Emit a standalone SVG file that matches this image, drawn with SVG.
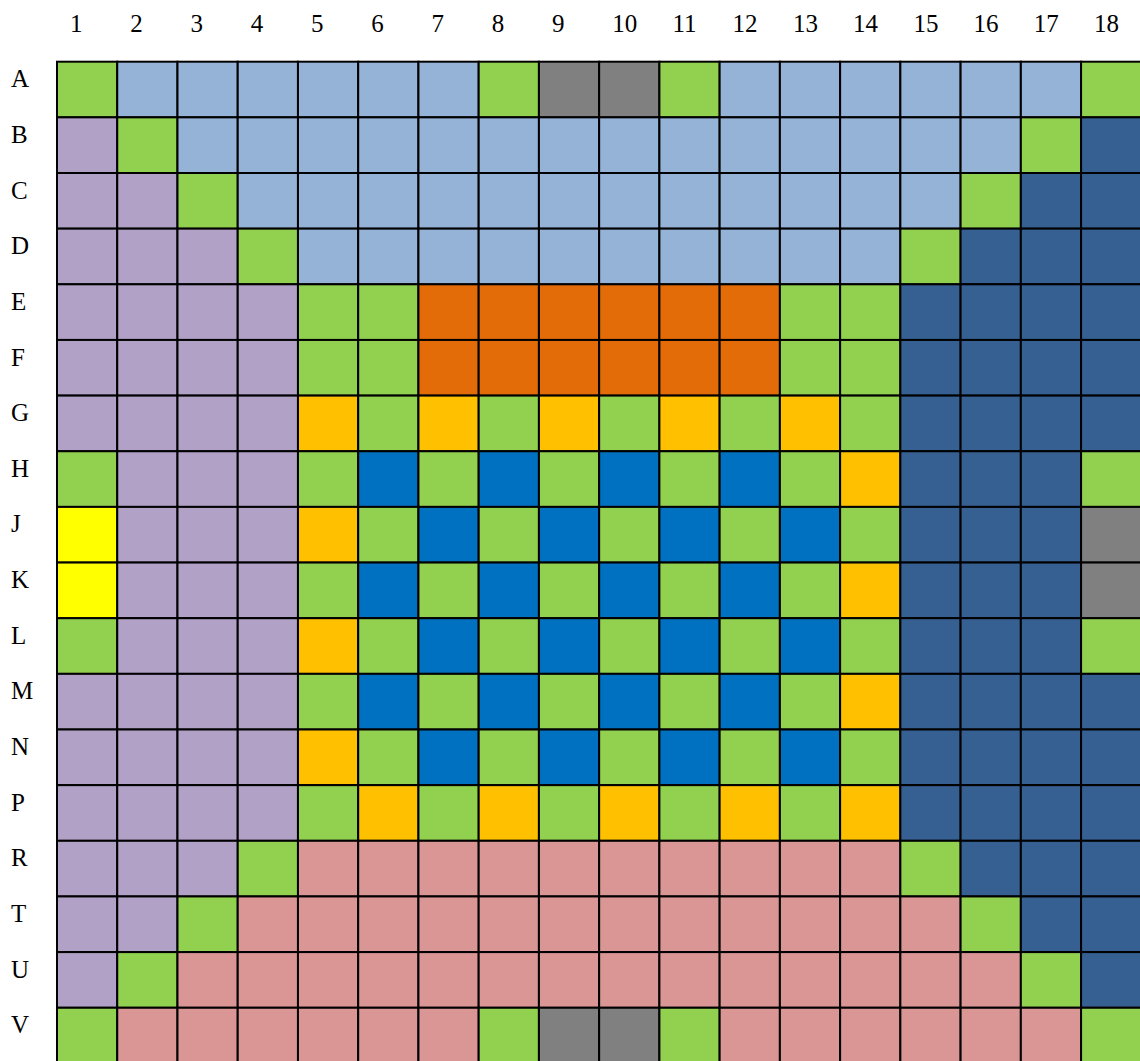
<svg xmlns="http://www.w3.org/2000/svg" width="1140" height="1061" viewBox="0 0 1140 1061">
<style>
rect{stroke:#000;stroke-width:2}
.g{fill:#92D050}.lb{fill:#95B3D7}.gr{fill:#808080}.p{fill:#B2A1C7}.db{fill:#366092}.o{fill:#E36C09}.y{fill:#FFC000}.b{fill:#0070C0}.ye{fill:#FFFF00}.pk{fill:#DA9694}
text{font-family:"Liberation Serif","Times New Roman",serif;font-size:25px;fill:#000}
</style>
<rect x="0" y="0" width="1140" height="1061" style="fill:#fff;stroke:none"/>
<g id="column-labels">
<text x="70" y="31.5">1</text><text x="130.2" y="31.5">2</text><text x="190.5" y="31.5">3</text><text x="250.7" y="31.5">4</text><text x="311" y="31.5">5</text><text x="371.2" y="31.5">6</text><text x="431.4" y="31.5">7</text><text x="491.7" y="31.5">8</text><text x="551.9" y="31.5">9</text><text x="612.2" y="31.5">10</text><text x="672.4" y="31.5">11</text><text x="732.6" y="31.5">12</text><text x="792.9" y="31.5">13</text><text x="853.1" y="31.5">14</text><text x="913.4" y="31.5">15</text><text x="973.6" y="31.5">16</text><text x="1033.8" y="31.5">17</text><text x="1094.1" y="31.5">18</text>
</g>
<g id="row-labels">
<text x="11" y="87.2">A</text><text x="11" y="142.9">B</text><text x="11" y="198.5">C</text><text x="11" y="254.2">D</text><text x="11" y="309.8">E</text><text x="11" y="365.5">F</text><text x="11" y="421.1">G</text><text x="11" y="476.8">H</text><text x="11" y="532.4">J</text><text x="11" y="588.1">K</text><text x="11" y="643.7">L</text><text x="11" y="699.4">M</text><text x="11" y="755">N</text><text x="11" y="810.7">P</text><text x="11" y="866.3">R</text><text x="11" y="922">T</text><text x="11" y="977.6">U</text><text x="11" y="1033.3">V</text>
</g>
<g id="grid">
<g id="row-A" transform="translate(0,61.7)">
<rect width="60.24" height="55.65" x="57" class="g"/><rect width="60.24" height="55.65" x="117.24" class="lb"/><rect width="60.24" height="55.65" x="177.48" class="lb"/><rect width="60.24" height="55.65" x="237.72" class="lb"/><rect width="60.24" height="55.65" x="297.96" class="lb"/><rect width="60.24" height="55.65" x="358.2" class="lb"/><rect width="60.24" height="55.65" x="418.44" class="lb"/><rect width="60.24" height="55.65" x="478.68" class="g"/><rect width="60.24" height="55.65" x="538.92" class="gr"/><rect width="60.24" height="55.65" x="599.16" class="gr"/><rect width="60.24" height="55.65" x="659.4" class="g"/><rect width="60.24" height="55.65" x="719.64" class="lb"/><rect width="60.24" height="55.65" x="779.88" class="lb"/><rect width="60.24" height="55.65" x="840.12" class="lb"/><rect width="60.24" height="55.65" x="900.36" class="lb"/><rect width="60.24" height="55.65" x="960.6" class="lb"/><rect width="60.24" height="55.65" x="1020.84" class="lb"/><rect width="60.24" height="55.65" x="1081.08" class="g"/>
</g>
<g id="row-B" transform="translate(0,117.35)">
<rect width="60.24" height="55.65" x="57" class="p"/><rect width="60.24" height="55.65" x="117.24" class="g"/><rect width="60.24" height="55.65" x="177.48" class="lb"/><rect width="60.24" height="55.65" x="237.72" class="lb"/><rect width="60.24" height="55.65" x="297.96" class="lb"/><rect width="60.24" height="55.65" x="358.2" class="lb"/><rect width="60.24" height="55.65" x="418.44" class="lb"/><rect width="60.24" height="55.65" x="478.68" class="lb"/><rect width="60.24" height="55.65" x="538.92" class="lb"/><rect width="60.24" height="55.65" x="599.16" class="lb"/><rect width="60.24" height="55.65" x="659.4" class="lb"/><rect width="60.24" height="55.65" x="719.64" class="lb"/><rect width="60.24" height="55.65" x="779.88" class="lb"/><rect width="60.24" height="55.65" x="840.12" class="lb"/><rect width="60.24" height="55.65" x="900.36" class="lb"/><rect width="60.24" height="55.65" x="960.6" class="lb"/><rect width="60.24" height="55.65" x="1020.84" class="g"/><rect width="60.24" height="55.65" x="1081.08" class="db"/>
</g>
<g id="row-C" transform="translate(0,173)">
<rect width="60.24" height="55.65" x="57" class="p"/><rect width="60.24" height="55.65" x="117.24" class="p"/><rect width="60.24" height="55.65" x="177.48" class="g"/><rect width="60.24" height="55.65" x="237.72" class="lb"/><rect width="60.24" height="55.65" x="297.96" class="lb"/><rect width="60.24" height="55.65" x="358.2" class="lb"/><rect width="60.24" height="55.65" x="418.44" class="lb"/><rect width="60.24" height="55.65" x="478.68" class="lb"/><rect width="60.24" height="55.65" x="538.92" class="lb"/><rect width="60.24" height="55.65" x="599.16" class="lb"/><rect width="60.24" height="55.65" x="659.4" class="lb"/><rect width="60.24" height="55.65" x="719.64" class="lb"/><rect width="60.24" height="55.65" x="779.88" class="lb"/><rect width="60.24" height="55.65" x="840.12" class="lb"/><rect width="60.24" height="55.65" x="900.36" class="lb"/><rect width="60.24" height="55.65" x="960.6" class="g"/><rect width="60.24" height="55.65" x="1020.84" class="db"/><rect width="60.24" height="55.65" x="1081.08" class="db"/>
</g>
<g id="row-D" transform="translate(0,228.65)">
<rect width="60.24" height="55.65" x="57" class="p"/><rect width="60.24" height="55.65" x="117.24" class="p"/><rect width="60.24" height="55.65" x="177.48" class="p"/><rect width="60.24" height="55.65" x="237.72" class="g"/><rect width="60.24" height="55.65" x="297.96" class="lb"/><rect width="60.24" height="55.65" x="358.2" class="lb"/><rect width="60.24" height="55.65" x="418.44" class="lb"/><rect width="60.24" height="55.65" x="478.68" class="lb"/><rect width="60.24" height="55.65" x="538.92" class="lb"/><rect width="60.24" height="55.65" x="599.16" class="lb"/><rect width="60.24" height="55.65" x="659.4" class="lb"/><rect width="60.24" height="55.65" x="719.64" class="lb"/><rect width="60.24" height="55.65" x="779.88" class="lb"/><rect width="60.24" height="55.65" x="840.12" class="lb"/><rect width="60.24" height="55.65" x="900.36" class="g"/><rect width="60.24" height="55.65" x="960.6" class="db"/><rect width="60.24" height="55.65" x="1020.84" class="db"/><rect width="60.24" height="55.65" x="1081.08" class="db"/>
</g>
<g id="row-E" transform="translate(0,284.3)">
<rect width="60.24" height="55.65" x="57" class="p"/><rect width="60.24" height="55.65" x="117.24" class="p"/><rect width="60.24" height="55.65" x="177.48" class="p"/><rect width="60.24" height="55.65" x="237.72" class="p"/><rect width="60.24" height="55.65" x="297.96" class="g"/><rect width="60.24" height="55.65" x="358.2" class="g"/><rect width="60.24" height="55.65" x="418.44" class="o"/><rect width="60.24" height="55.65" x="478.68" class="o"/><rect width="60.24" height="55.65" x="538.92" class="o"/><rect width="60.24" height="55.65" x="599.16" class="o"/><rect width="60.24" height="55.65" x="659.4" class="o"/><rect width="60.24" height="55.65" x="719.64" class="o"/><rect width="60.24" height="55.65" x="779.88" class="g"/><rect width="60.24" height="55.65" x="840.12" class="g"/><rect width="60.24" height="55.65" x="900.36" class="db"/><rect width="60.24" height="55.65" x="960.6" class="db"/><rect width="60.24" height="55.65" x="1020.84" class="db"/><rect width="60.24" height="55.65" x="1081.08" class="db"/>
</g>
<g id="row-F" transform="translate(0,339.95)">
<rect width="60.24" height="55.65" x="57" class="p"/><rect width="60.24" height="55.65" x="117.24" class="p"/><rect width="60.24" height="55.65" x="177.48" class="p"/><rect width="60.24" height="55.65" x="237.72" class="p"/><rect width="60.24" height="55.65" x="297.96" class="g"/><rect width="60.24" height="55.65" x="358.2" class="g"/><rect width="60.24" height="55.65" x="418.44" class="o"/><rect width="60.24" height="55.65" x="478.68" class="o"/><rect width="60.24" height="55.65" x="538.92" class="o"/><rect width="60.24" height="55.65" x="599.16" class="o"/><rect width="60.24" height="55.65" x="659.4" class="o"/><rect width="60.24" height="55.65" x="719.64" class="o"/><rect width="60.24" height="55.65" x="779.88" class="g"/><rect width="60.24" height="55.65" x="840.12" class="g"/><rect width="60.24" height="55.65" x="900.36" class="db"/><rect width="60.24" height="55.65" x="960.6" class="db"/><rect width="60.24" height="55.65" x="1020.84" class="db"/><rect width="60.24" height="55.65" x="1081.08" class="db"/>
</g>
<g id="row-G" transform="translate(0,395.6)">
<rect width="60.24" height="55.65" x="57" class="p"/><rect width="60.24" height="55.65" x="117.24" class="p"/><rect width="60.24" height="55.65" x="177.48" class="p"/><rect width="60.24" height="55.65" x="237.72" class="p"/><rect width="60.24" height="55.65" x="297.96" class="y"/><rect width="60.24" height="55.65" x="358.2" class="g"/><rect width="60.24" height="55.65" x="418.44" class="y"/><rect width="60.24" height="55.65" x="478.68" class="g"/><rect width="60.24" height="55.65" x="538.92" class="y"/><rect width="60.24" height="55.65" x="599.16" class="g"/><rect width="60.24" height="55.65" x="659.4" class="y"/><rect width="60.24" height="55.65" x="719.64" class="g"/><rect width="60.24" height="55.65" x="779.88" class="y"/><rect width="60.24" height="55.65" x="840.12" class="g"/><rect width="60.24" height="55.65" x="900.36" class="db"/><rect width="60.24" height="55.65" x="960.6" class="db"/><rect width="60.24" height="55.65" x="1020.84" class="db"/><rect width="60.24" height="55.65" x="1081.08" class="db"/>
</g>
<g id="row-H" transform="translate(0,451.25)">
<rect width="60.24" height="55.65" x="57" class="g"/><rect width="60.24" height="55.65" x="117.24" class="p"/><rect width="60.24" height="55.65" x="177.48" class="p"/><rect width="60.24" height="55.65" x="237.72" class="p"/><rect width="60.24" height="55.65" x="297.96" class="g"/><rect width="60.24" height="55.65" x="358.2" class="b"/><rect width="60.24" height="55.65" x="418.44" class="g"/><rect width="60.24" height="55.65" x="478.68" class="b"/><rect width="60.24" height="55.65" x="538.92" class="g"/><rect width="60.24" height="55.65" x="599.16" class="b"/><rect width="60.24" height="55.65" x="659.4" class="g"/><rect width="60.24" height="55.65" x="719.64" class="b"/><rect width="60.24" height="55.65" x="779.88" class="g"/><rect width="60.24" height="55.65" x="840.12" class="y"/><rect width="60.24" height="55.65" x="900.36" class="db"/><rect width="60.24" height="55.65" x="960.6" class="db"/><rect width="60.24" height="55.65" x="1020.84" class="db"/><rect width="60.24" height="55.65" x="1081.08" class="g"/>
</g>
<g id="row-J" transform="translate(0,506.9)">
<rect width="60.24" height="55.65" x="57" class="ye"/><rect width="60.24" height="55.65" x="117.24" class="p"/><rect width="60.24" height="55.65" x="177.48" class="p"/><rect width="60.24" height="55.65" x="237.72" class="p"/><rect width="60.24" height="55.65" x="297.96" class="y"/><rect width="60.24" height="55.65" x="358.2" class="g"/><rect width="60.24" height="55.65" x="418.44" class="b"/><rect width="60.24" height="55.65" x="478.68" class="g"/><rect width="60.24" height="55.65" x="538.92" class="b"/><rect width="60.24" height="55.65" x="599.16" class="g"/><rect width="60.24" height="55.65" x="659.4" class="b"/><rect width="60.24" height="55.65" x="719.64" class="g"/><rect width="60.24" height="55.65" x="779.88" class="b"/><rect width="60.24" height="55.65" x="840.12" class="g"/><rect width="60.24" height="55.65" x="900.36" class="db"/><rect width="60.24" height="55.65" x="960.6" class="db"/><rect width="60.24" height="55.65" x="1020.84" class="db"/><rect width="60.24" height="55.65" x="1081.08" class="gr"/>
</g>
<g id="row-K" transform="translate(0,562.55)">
<rect width="60.24" height="55.65" x="57" class="ye"/><rect width="60.24" height="55.65" x="117.24" class="p"/><rect width="60.24" height="55.65" x="177.48" class="p"/><rect width="60.24" height="55.65" x="237.72" class="p"/><rect width="60.24" height="55.65" x="297.96" class="g"/><rect width="60.24" height="55.65" x="358.2" class="b"/><rect width="60.24" height="55.65" x="418.44" class="g"/><rect width="60.24" height="55.65" x="478.68" class="b"/><rect width="60.24" height="55.65" x="538.92" class="g"/><rect width="60.24" height="55.65" x="599.16" class="b"/><rect width="60.24" height="55.65" x="659.4" class="g"/><rect width="60.24" height="55.65" x="719.64" class="b"/><rect width="60.24" height="55.65" x="779.88" class="g"/><rect width="60.24" height="55.65" x="840.12" class="y"/><rect width="60.24" height="55.65" x="900.36" class="db"/><rect width="60.24" height="55.65" x="960.6" class="db"/><rect width="60.24" height="55.65" x="1020.84" class="db"/><rect width="60.24" height="55.65" x="1081.08" class="gr"/>
</g>
<g id="row-L" transform="translate(0,618.2)">
<rect width="60.24" height="55.65" x="57" class="g"/><rect width="60.24" height="55.65" x="117.24" class="p"/><rect width="60.24" height="55.65" x="177.48" class="p"/><rect width="60.24" height="55.65" x="237.72" class="p"/><rect width="60.24" height="55.65" x="297.96" class="y"/><rect width="60.24" height="55.65" x="358.2" class="g"/><rect width="60.24" height="55.65" x="418.44" class="b"/><rect width="60.24" height="55.65" x="478.68" class="g"/><rect width="60.24" height="55.65" x="538.92" class="b"/><rect width="60.24" height="55.65" x="599.16" class="g"/><rect width="60.24" height="55.65" x="659.4" class="b"/><rect width="60.24" height="55.65" x="719.64" class="g"/><rect width="60.24" height="55.65" x="779.88" class="b"/><rect width="60.24" height="55.65" x="840.12" class="g"/><rect width="60.24" height="55.65" x="900.36" class="db"/><rect width="60.24" height="55.65" x="960.6" class="db"/><rect width="60.24" height="55.65" x="1020.84" class="db"/><rect width="60.24" height="55.65" x="1081.08" class="g"/>
</g>
<g id="row-M" transform="translate(0,673.85)">
<rect width="60.24" height="55.65" x="57" class="p"/><rect width="60.24" height="55.65" x="117.24" class="p"/><rect width="60.24" height="55.65" x="177.48" class="p"/><rect width="60.24" height="55.65" x="237.72" class="p"/><rect width="60.24" height="55.65" x="297.96" class="g"/><rect width="60.24" height="55.65" x="358.2" class="b"/><rect width="60.24" height="55.65" x="418.44" class="g"/><rect width="60.24" height="55.65" x="478.68" class="b"/><rect width="60.24" height="55.65" x="538.92" class="g"/><rect width="60.24" height="55.65" x="599.16" class="b"/><rect width="60.24" height="55.65" x="659.4" class="g"/><rect width="60.24" height="55.65" x="719.64" class="b"/><rect width="60.24" height="55.65" x="779.88" class="g"/><rect width="60.24" height="55.65" x="840.12" class="y"/><rect width="60.24" height="55.65" x="900.36" class="db"/><rect width="60.24" height="55.65" x="960.6" class="db"/><rect width="60.24" height="55.65" x="1020.84" class="db"/><rect width="60.24" height="55.65" x="1081.08" class="db"/>
</g>
<g id="row-N" transform="translate(0,729.5)">
<rect width="60.24" height="55.65" x="57" class="p"/><rect width="60.24" height="55.65" x="117.24" class="p"/><rect width="60.24" height="55.65" x="177.48" class="p"/><rect width="60.24" height="55.65" x="237.72" class="p"/><rect width="60.24" height="55.65" x="297.96" class="y"/><rect width="60.24" height="55.65" x="358.2" class="g"/><rect width="60.24" height="55.65" x="418.44" class="b"/><rect width="60.24" height="55.65" x="478.68" class="g"/><rect width="60.24" height="55.65" x="538.92" class="b"/><rect width="60.24" height="55.65" x="599.16" class="g"/><rect width="60.24" height="55.65" x="659.4" class="b"/><rect width="60.24" height="55.65" x="719.64" class="g"/><rect width="60.24" height="55.65" x="779.88" class="b"/><rect width="60.24" height="55.65" x="840.12" class="g"/><rect width="60.24" height="55.65" x="900.36" class="db"/><rect width="60.24" height="55.65" x="960.6" class="db"/><rect width="60.24" height="55.65" x="1020.84" class="db"/><rect width="60.24" height="55.65" x="1081.08" class="db"/>
</g>
<g id="row-P" transform="translate(0,785.15)">
<rect width="60.24" height="55.65" x="57" class="p"/><rect width="60.24" height="55.65" x="117.24" class="p"/><rect width="60.24" height="55.65" x="177.48" class="p"/><rect width="60.24" height="55.65" x="237.72" class="p"/><rect width="60.24" height="55.65" x="297.96" class="g"/><rect width="60.24" height="55.65" x="358.2" class="y"/><rect width="60.24" height="55.65" x="418.44" class="g"/><rect width="60.24" height="55.65" x="478.68" class="y"/><rect width="60.24" height="55.65" x="538.92" class="g"/><rect width="60.24" height="55.65" x="599.16" class="y"/><rect width="60.24" height="55.65" x="659.4" class="g"/><rect width="60.24" height="55.65" x="719.64" class="y"/><rect width="60.24" height="55.65" x="779.88" class="g"/><rect width="60.24" height="55.65" x="840.12" class="y"/><rect width="60.24" height="55.65" x="900.36" class="db"/><rect width="60.24" height="55.65" x="960.6" class="db"/><rect width="60.24" height="55.65" x="1020.84" class="db"/><rect width="60.24" height="55.65" x="1081.08" class="db"/>
</g>
<g id="row-R" transform="translate(0,840.8)">
<rect width="60.24" height="55.65" x="57" class="p"/><rect width="60.24" height="55.65" x="117.24" class="p"/><rect width="60.24" height="55.65" x="177.48" class="p"/><rect width="60.24" height="55.65" x="237.72" class="g"/><rect width="60.24" height="55.65" x="297.96" class="pk"/><rect width="60.24" height="55.65" x="358.2" class="pk"/><rect width="60.24" height="55.65" x="418.44" class="pk"/><rect width="60.24" height="55.65" x="478.68" class="pk"/><rect width="60.24" height="55.65" x="538.92" class="pk"/><rect width="60.24" height="55.65" x="599.16" class="pk"/><rect width="60.24" height="55.65" x="659.4" class="pk"/><rect width="60.24" height="55.65" x="719.64" class="pk"/><rect width="60.24" height="55.65" x="779.88" class="pk"/><rect width="60.24" height="55.65" x="840.12" class="pk"/><rect width="60.24" height="55.65" x="900.36" class="g"/><rect width="60.24" height="55.65" x="960.6" class="db"/><rect width="60.24" height="55.65" x="1020.84" class="db"/><rect width="60.24" height="55.65" x="1081.08" class="db"/>
</g>
<g id="row-T" transform="translate(0,896.45)">
<rect width="60.24" height="55.65" x="57" class="p"/><rect width="60.24" height="55.65" x="117.24" class="p"/><rect width="60.24" height="55.65" x="177.48" class="g"/><rect width="60.24" height="55.65" x="237.72" class="pk"/><rect width="60.24" height="55.65" x="297.96" class="pk"/><rect width="60.24" height="55.65" x="358.2" class="pk"/><rect width="60.24" height="55.65" x="418.44" class="pk"/><rect width="60.24" height="55.65" x="478.68" class="pk"/><rect width="60.24" height="55.65" x="538.92" class="pk"/><rect width="60.24" height="55.65" x="599.16" class="pk"/><rect width="60.24" height="55.65" x="659.4" class="pk"/><rect width="60.24" height="55.65" x="719.64" class="pk"/><rect width="60.24" height="55.65" x="779.88" class="pk"/><rect width="60.24" height="55.65" x="840.12" class="pk"/><rect width="60.24" height="55.65" x="900.36" class="pk"/><rect width="60.24" height="55.65" x="960.6" class="g"/><rect width="60.24" height="55.65" x="1020.84" class="db"/><rect width="60.24" height="55.65" x="1081.08" class="db"/>
</g>
<g id="row-U" transform="translate(0,952.1)">
<rect width="60.24" height="55.65" x="57" class="p"/><rect width="60.24" height="55.65" x="117.24" class="g"/><rect width="60.24" height="55.65" x="177.48" class="pk"/><rect width="60.24" height="55.65" x="237.72" class="pk"/><rect width="60.24" height="55.65" x="297.96" class="pk"/><rect width="60.24" height="55.65" x="358.2" class="pk"/><rect width="60.24" height="55.65" x="418.44" class="pk"/><rect width="60.24" height="55.65" x="478.68" class="pk"/><rect width="60.24" height="55.65" x="538.92" class="pk"/><rect width="60.24" height="55.65" x="599.16" class="pk"/><rect width="60.24" height="55.65" x="659.4" class="pk"/><rect width="60.24" height="55.65" x="719.64" class="pk"/><rect width="60.24" height="55.65" x="779.88" class="pk"/><rect width="60.24" height="55.65" x="840.12" class="pk"/><rect width="60.24" height="55.65" x="900.36" class="pk"/><rect width="60.24" height="55.65" x="960.6" class="pk"/><rect width="60.24" height="55.65" x="1020.84" class="g"/><rect width="60.24" height="55.65" x="1081.08" class="db"/>
</g>
<g id="row-V" transform="translate(0,1007.75)">
<rect width="60.24" height="55.65" x="57" class="g"/><rect width="60.24" height="55.65" x="117.24" class="pk"/><rect width="60.24" height="55.65" x="177.48" class="pk"/><rect width="60.24" height="55.65" x="237.72" class="pk"/><rect width="60.24" height="55.65" x="297.96" class="pk"/><rect width="60.24" height="55.65" x="358.2" class="pk"/><rect width="60.24" height="55.65" x="418.44" class="pk"/><rect width="60.24" height="55.65" x="478.68" class="g"/><rect width="60.24" height="55.65" x="538.92" class="gr"/><rect width="60.24" height="55.65" x="599.16" class="gr"/><rect width="60.24" height="55.65" x="659.4" class="g"/><rect width="60.24" height="55.65" x="719.64" class="pk"/><rect width="60.24" height="55.65" x="779.88" class="pk"/><rect width="60.24" height="55.65" x="840.12" class="pk"/><rect width="60.24" height="55.65" x="900.36" class="pk"/><rect width="60.24" height="55.65" x="960.6" class="pk"/><rect width="60.24" height="55.65" x="1020.84" class="pk"/><rect width="60.24" height="55.65" x="1081.08" class="g"/>
</g>
</g>
<g id="connectors"/>
</svg>
